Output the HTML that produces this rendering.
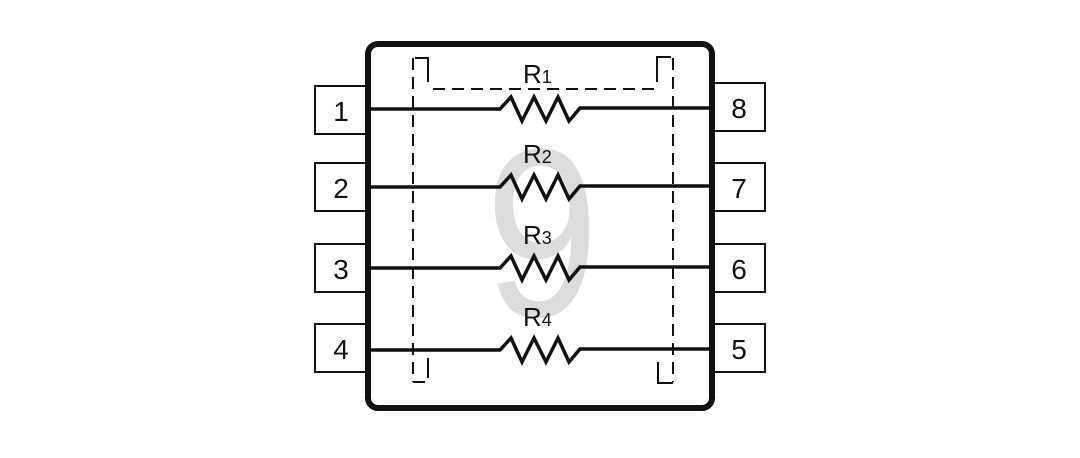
<!DOCTYPE html>
<html><head><style>
html,body{margin:0;padding:0;background:#fff;}
svg{display:block;}
text{font-family:"Liberation Sans",Arial,sans-serif;fill:#111;}
</style></head><body>
<svg width="1080" height="458" viewBox="0 0 1080 458" xmlns="http://www.w3.org/2000/svg">
<text x="0" y="0" font-size="240" text-anchor="middle" style="fill:#dcdcdc" transform="translate(542,316) scale(0.85,1)">9</text>
<g fill="none" stroke="#111" stroke-width="2">
<rect x="315" y="86" width="51" height="48"/>
<rect x="315" y="163" width="51" height="48"/>
<rect x="315" y="244" width="51" height="48"/>
<rect x="315" y="324" width="51" height="48"/>
<rect x="714" y="83" width="51" height="48"/>
<rect x="714" y="163" width="51" height="48"/>
<rect x="714" y="244" width="51" height="48"/>
<rect x="714" y="324" width="51" height="48"/>
</g>
<g fill="none" stroke="#111" stroke-width="2" stroke-dasharray="12,7">
<path d="M413 58 V382"/>
<path d="M673 58 V382"/>
<path d="M433 89 H657"/>
</g>
<g fill="none" stroke="#111" stroke-width="2">
<path d="M415 58 H428 V82"/>
<path d="M671 57 H657 V82"/>
<path d="M413 382 H425 M428 378 V358"/>
<path d="M673 383 H658 V362"/>
</g>
<g fill="none" stroke="#111" stroke-width="3.5" stroke-linejoin="miter">
<path d="M366 109 H500 L511 97 L522 121 L534 97 L546 121 L558 97 L569 121 L580 108 H714"/>
<path d="M366 187 H500 L511 175 L522 199 L534 175 L546 199 L558 175 L569 199 L580 186 H714"/>
<path d="M366 268 H500 L511 256 L522 280 L534 256 L546 280 L558 256 L569 280 L580 267 H714"/>
<path d="M366 350 H500 L511 338 L522 362 L534 338 L546 362 L558 338 L569 362 L580 349 H714"/>
</g>
<rect x="368" y="44" width="344" height="364" rx="10" fill="none" stroke="#111" stroke-width="6"/>
<g font-size="28" text-anchor="middle">
<text x="341" y="121" transform="scale(1,1)">1</text><text x="341" y="198">2</text><text x="341" y="279">3</text><text x="341" y="359">4</text>
<text x="739" y="118">8</text><text x="739" y="198">7</text><text x="739" y="279">6</text><text x="739" y="359">5</text>
</g>
<g font-size="26">
<text x="523" y="83">R<tspan font-size="18">1</tspan></text>
<text x="523" y="163">R<tspan font-size="18">2</tspan></text>
<text x="523" y="244">R<tspan font-size="18">3</tspan></text>
<text x="523" y="326">R<tspan font-size="18">4</tspan></text>
</g>
</svg>
</body></html>
